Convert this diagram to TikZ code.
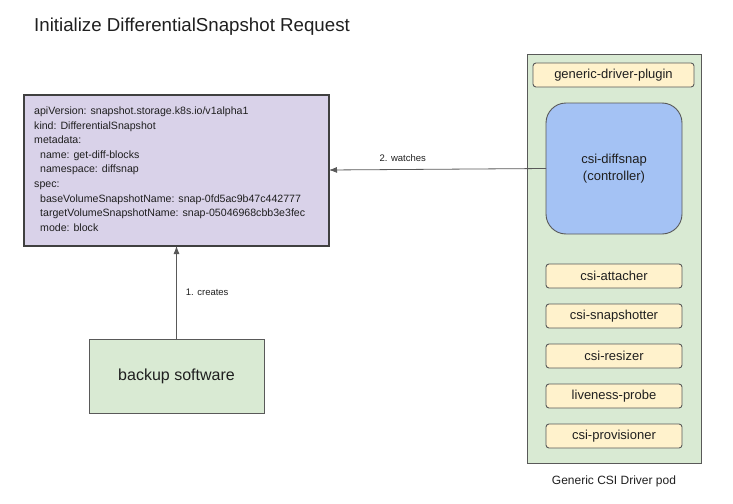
\documentclass[tikz,border=0pt]{standalone}
\usepackage{fontspec}
\setmainfont{Liberation Sans}
\usetikzlibrary{arrows.meta}
\definecolor{edge}{HTML}{595959}
\definecolor{purp}{HTML}{D9D2E9}
\definecolor{grn}{HTML}{D9EAD3}
\definecolor{yel}{HTML}{FFF2CC}
\definecolor{blu}{HTML}{A4C2F4}
\definecolor{txt}{HTML}{1F1F1F}
\tikzset{
  box/.style={draw=edge, line width=0.9pt, inner sep=0pt, outer sep=0pt},
  pill/.style={box, fill=yel, rounded corners=3pt, minimum width=136pt, minimum height=24pt, font=\fontsize{13}{15}\selectfont, text=txt},
  conn/.style={draw=edge, line width=0.8pt, -{Latex[length=8pt,width=6pt]}},
  lbl/.style={font=\fontsize{9.5}{11}\selectfont, text=txt, inner sep=0pt},
}
\begin{document}
\begin{tikzpicture}[x=1pt,y=-1pt]
\useasboundingbox (0,0) rectangle (733,503);
\node[anchor=base west, inner sep=0pt, font=\fontsize{18.7}{22}\selectfont, text=txt] (title) at (34,32) {Initialize DifferentialSnapshot Request};
% purple spec box
\node[box, draw=black!75, line width=1.1pt, fill=purp, minimum width=305pt, minimum height=151pt, anchor=north west] (spec) at (24,95) {};
\node[anchor=north west, inner sep=0pt, align=left, font=\fontsize{10.6}{14.65}\selectfont, text=txt] (spectext) at (34,106.5) {%
apiVersion: snapshot.storage.k8s.io/v1alpha1\\
kind: DifferentialSnapshot\\
metadata:\\
\hspace*{6pt}name: get-diff-blocks\\
\hspace*{6pt}namespace: diffsnap\\
spec:\\
\hspace*{6pt}baseVolumeSnapshotName: snap-0fd5ac9b47c442777\\
\hspace*{6pt}targetVolumeSnapshotName: snap-05046968cbb3e3fec\\
\hspace*{6pt}mode: block};
% backup software
\node[box, fill=grn, minimum width=175pt, minimum height=74pt, anchor=north west, font=\fontsize{16}{19}\selectfont, text=txt] (backup) at (89,339) {backup software};
% pod
\node[box, fill=grn, minimum width=174pt, minimum height=409pt, anchor=north west] (pod) at (527,54) {};
\node[anchor=base, inner sep=0pt, font=\fontsize{12}{14}\selectfont, text=txt] (podlbl) at (614,484) {Generic CSI Driver pod};
\node[pill, minimum width=161pt, anchor=north west] (gdp) at (533,63) {generic-driver-plugin};
\node[box, fill=blu, rounded corners=20pt, minimum width=136pt, minimum height=131pt, anchor=north west, align=center, font=\fontsize{13}{17}\selectfont, text=txt] (diffsnap) at (546,103) {csi-diffsnap\\(controller)};
\node[pill, anchor=north west] (att) at (546,264) {csi-attacher};
\node[pill, anchor=north west] (snp) at (546,304) {csi-snapshotter};
\node[pill, anchor=north west] (rsz) at (546,344) {csi-resizer};
\node[pill, anchor=north west] (lvp) at (546,384) {liveness-probe};
\node[pill, anchor=north west] (prv) at (546,424) {csi-provisioner};
% connectors
\draw[conn] (backup.north) -- (spec.south) node[lbl, pos=0.5, anchor=west, xshift=9pt] (l1) {1. creates};
\draw[conn] (diffsnap.west) -- (spec.east |- 0,170) node[lbl, pos=0.66, anchor=south, yshift=7pt] (l2) {2. watches};
\end{tikzpicture}
\end{document}
